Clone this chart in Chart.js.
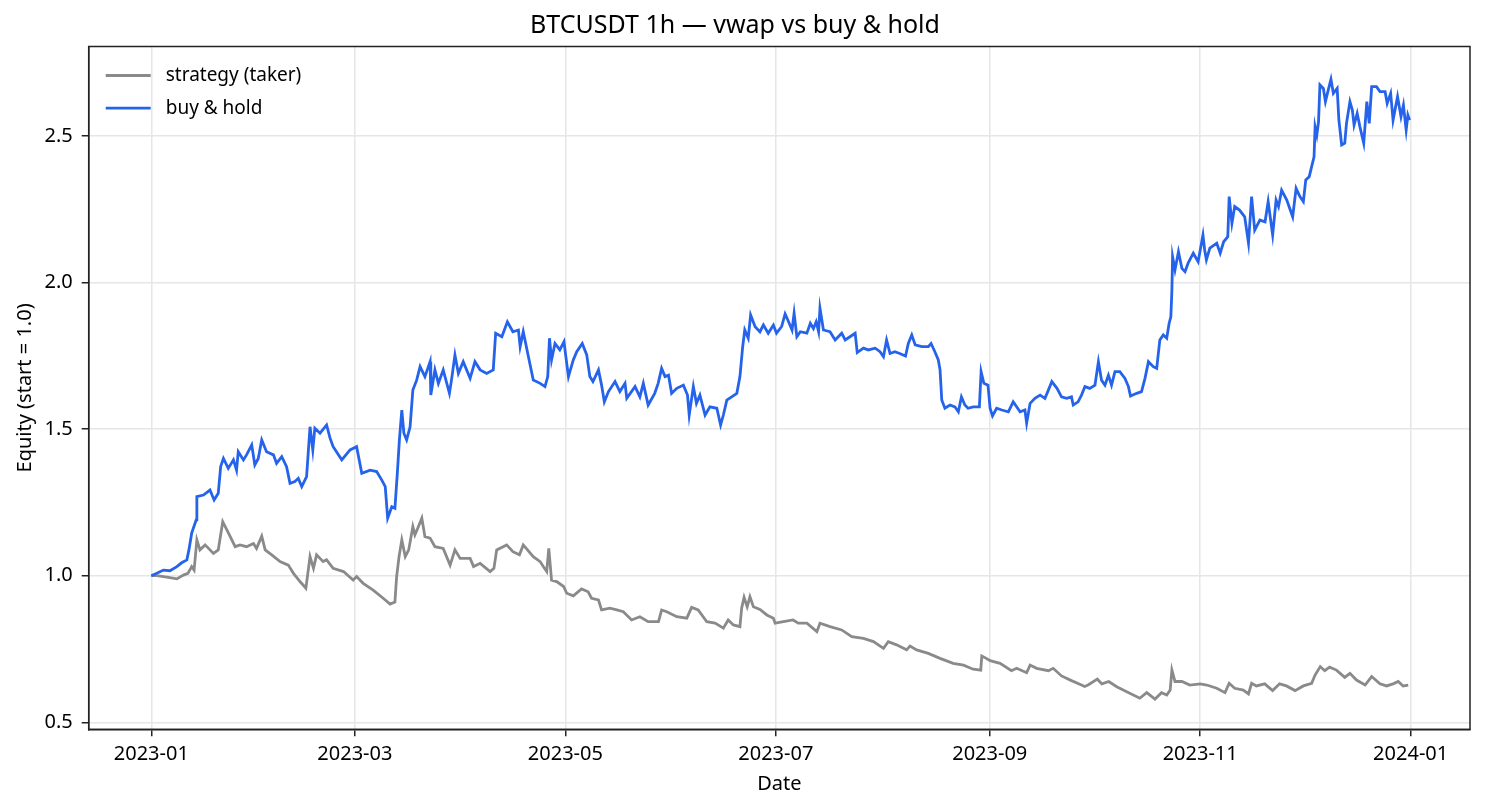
<!DOCTYPE html>
<html>
<head>
<meta charset="utf-8">
<title>BTCUSDT 1h — vwap vs buy & hold</title>
<script src="https://cdn.jsdelivr.net/npm/chart.js@4.4.1/dist/chart.umd.min.js"></script>
<style>
  html, body { margin: 0; padding: 0; background: #fff; }
  #wrap { width: 1485px; height: 810px; }
</style>
</head>
<body>
<div id="wrap"><canvas id="chartEquity" width="1485" height="810"></canvas></div>
<script>
// days since 2023-01-01 and equity
const holdDays = [0,1.6,3.5,5.4,7.4,8.8,10.3,10.9,11.7,13.0,13.2,15.1,17.0,18.2,19.4,20.1,20.9,22.3,23.8,24.7,25.2,26.7,27.6,29.1,30.0,31.0,32.0,33.4,35.4,36.3,37.8,39.2,40.2,41.6,42.6,43.6,45.0,46.0,46.8,47.4,48.9,50.8,51.8,
  52.7,55.2,57.6,59.5,61.0,63.4,65.3,66.8,67.8,68.5,69.7,70.6,71.3,71.9,72.6,73.2,74.0,75.0,75.8,76.9,77.9,79.3,80.8,81.0,82.2,83.2,84.6,86.4,87.0,88.0,89.0,90.4,92.4,93.8,95.3,97.2,99.1,99.8,101.6,103.2,104.8,106.4,106.9,107.8,109.3,110.7,112.7,114.1,114.9,115.4,116.0,117.0,118.4,
  119.6,120.4,120.9,122.3,123.3,124.9,126.2,127.1,128.0,129.6,130.5,131.3,132.5,134.4,135.8,137.3,137.8,140.2,141.6,142.6,144.0,145.9,146.9,147.9,148.9,149.9,150.8,152.3,154.2,155.4,155.9,157.1,158.0,159.0,160.5,161.9,163.9,165.0,165.8,166.8,168.2,169.7,170.6,171.4,172.0,173.0,173.7,175.0,176.4,177.4,178.8,180.3,181.2,182.7,
  183.7,184.7,185.7,186.3,187.1,188.1,190.0,191.0,191.9,192.7,193.4,193.8,194.8,196.7,198.2,200.1,201.1,202.5,204.0,204.6,206.4,207.8,209.8,211.2,212.2,213.1,214.1,215.5,216.9,218.6,219.4,220.4,221.4,223.3,225.2,226.0,227.1,228.1,228.6,229.1,230.0,231.5,232.9,233.9,234.8,235.8,236.7,238.2,240.0,240.5,241.3,242.5,243.1,243.8,245.0,246.5,248.4,249.8,251.8,253.2,253.7,254.7,256.1,257.6,259.0,260.0,261.0,262.5,263.8,265.3,266.7,267.2,268.6,269.6,270.6,272.0,273.5,274.5,275.4,276.4,277.4,278.3,279.3,280.7,282.2,283.2,283.8,285.6,287.0,288.0,289.0,290.4,291.4,292.3,293.3,294.3,295.0,295.5,295.8,
  296.0,296.7,297.7,298.7,299.6,300.5,302.0,303.4,304.8,305.3,305.8,306.8,308.8,309.8,310.8,312.0,312.4,313.2,314.0,315.4,316.9,318.0,318.9,319.8,321.3,322.8,323.7,325.0,326.0,326.7,327.6,329.1,330.8,331.8,332.9,333.9,334.6,335.6,336.3,337.0,337.3,337.8,338.3,338.7,339.7,340.3,341.0,341.9,342.6,343.7,344.2,345.0,345.9,346.4,347.4,348.1,348.6,349.5,350.3,351.4,352.3,353.0,353.7,355.1,356.1,357.6,358.2,359.2,359.9,361.2,362.2,362.9,363.7,364.2,364.7]
const holdEquity = [1.0,1.008,1.019,1.017,1.031,1.044,1.054,1.088,1.145,1.19,1.27,1.275,1.292,1.258,1.281,1.372,1.40,1.366,1.395,1.36,1.423,1.395,1.412,1.446,1.378,1.40,1.463,1.423,1.412,1.383,1.406,1.372,1.315,1.321,1.332,1.304,1.338,1.508,1.429,1.503,1.486,1.514,1.469,
  1.44,1.395,1.429,1.44,1.349,1.36,1.355,1.326,1.304,1.196,1.235,1.23,1.349,1.463,1.565,1.486,1.463,1.508,1.633,1.667,1.713,1.679,1.73,1.616,1.702,1.656,1.702,1.622,1.667,1.753,1.69,1.73,1.673,1.73,1.702,1.69,1.702,1.827,1.815,1.866,1.832,1.838,1.781,1.832,1.747,1.667,1.656,1.645,1.679,1.81,1.736,1.792,1.77,
  1.798,1.724,1.679,1.736,1.764,1.792,1.753,1.679,1.662,1.702,1.65,1.593,1.628,1.662,1.628,1.656,1.605,1.645,1.61,1.656,1.582,1.622,1.656,1.707,1.679,1.684,1.622,1.639,1.65,1.616,1.548,1.645,1.588,1.616,1.548,1.576,1.571,1.514,1.548,1.599,1.61,1.622,1.679,1.781,1.838,1.81,1.889,1.849,1.832,1.855,1.827,1.855,1.827,1.85,
  1.893,1.866,1.838,1.895,1.815,1.832,1.827,1.861,1.843,1.866,1.832,1.912,1.838,1.832,1.804,1.827,1.804,1.815,1.827,1.761,1.776,1.77,1.776,1.764,1.747,1.804,1.758,1.764,1.758,1.749,1.792,1.821,1.787,1.781,1.781,1.792,1.764,1.736,1.702,1.599,1.571,1.582,1.576,1.559,1.61,1.582,1.571,1.576,1.576,1.696,1.656,1.65,1.571,1.545,1.571,1.565,1.559,1.593,1.559,1.565,1.52,1.588,1.605,1.616,1.605,1.633,1.662,1.639,1.61,1.605,1.61,1.582,1.593,1.616,1.645,1.639,1.65,1.73,1.667,1.65,1.684,1.65,1.696,1.696,1.673,1.645,1.613,1.622,1.628,1.673,1.73,1.713,1.707,1.804,1.821,1.81,1.861,1.883,1.974,
  2.088,2.043,2.105,2.048,2.037,2.066,2.10,2.071,2.162,2.111,2.077,2.117,2.134,2.10,2.139,2.156,2.293,2.202,2.259,2.247,2.224,2.134,2.293,2.179,2.213,2.207,2.276,2.162,2.281,2.259,2.315,2.281,2.224,2.321,2.293,2.276,2.35,2.361,2.395,2.429,2.531,2.503,2.548,2.674,2.662,2.617,2.651,2.693,2.645,2.662,2.554,2.469,2.475,2.543,2.617,2.588,2.537,2.577,2.531,2.475,2.617,2.543,2.668,2.668,2.651,2.651,2.611,2.645,2.554,2.634,2.566,2.605,2.52,2.571,2.554]

const stratDays = [0,1.6,4.5,7.4,9.3,10.6,11.7,12.4,13.2,14.1,15.6,18.0,19.4,20.7,21.9,24.3,25.7,27.6,29.6,30.5,32.0,33.0,34.9,37.3,39.7,41.2,43.1,44.8,46.0,47.0,47.9,49.8,50.8,52.7,55.7,58.5,59.5,61.4,64.3,67.2,69.2,70.6,71.1,71.8,72.6,73.6,74.6,75.8,76.4,77.4,78.4,79.3,80.8,82.2,84.6,86.6,88.0,89.5,92.4,93.4,95.3,98.2,99.3,100.1,103.0,104.8,106.7,107.8,110.7,112.7,
  113.6,114.6,115.2,116.0,117.5,119.5,120.4,122.3,124.7,126.6,127.6,129.6,130.5,132.9,134.9,136.8,139.2,141.6,144.0,147.0,147.9,149.4,152.3,155.2,156.6,158.5,161.0,163.4,165.8,167.2,168.7,170.6,171.1,171.8,172.7,173.5,174.5,176.4,178.4,180.3,180.8,183.2,186.0,187.5,190.0,192.9,193.8,196.7,200.1,203.0,206.4,209.3,212.2,213.6,216.0,218.9,219.9,221.8,225.2,228.6,232.4,235.4,238.2,240.4,240.7,242.0,
  243.1,246.0,249.3,250.8,253.7,254.7,256.6,260.0,261.4,263.8,266.7,269.6,270.5,271.5,274.2,275.5,277.5,279.8,282.7,286.5,288.5,290.9,292.8,294.3,295.3,295.8,296.7,298.7,301.0,304.0,305.9,308.8,311.2,312.4,314.0,316.5,318.0,318.9,320.3,322.7,325.0,327.0,329.0,331.5,333.9,336.3,337.3,338.8,340.1,341.5,343.5,345.9,347.4,349.3,351.8,353.7,356.1,358.0,359.9,361.4,362.8,364.3]
const stratEquity = [1.0,1.0,0.995,0.989,1.002,1.008,1.031,1.019,1.122,1.088,1.105,1.076,1.088,1.184,1.156,1.099,1.105,1.099,1.11,1.093,1.135,1.088,1.071,1.048,1.036,1.008,0.98,0.957,1.065,1.025,1.071,1.048,1.054,1.025,1.014,0.985,0.997,0.974,0.951,0.923,0.903,0.91,0.997,1.065,1.122,1.065,1.088,1.167,1.139,1.167,1.196,1.133,1.128,1.099,1.093,1.036,1.088,1.059,1.059,1.031,1.042,1.014,1.025,1.088,1.105,1.082,1.071,1.105,1.065,1.048,
  1.031,1.014,1.093,0.985,0.98,0.963,0.94,0.931,0.955,0.945,0.923,0.917,0.883,0.889,0.883,0.877,0.849,0.86,0.843,0.843,0.883,0.877,0.86,0.855,0.892,0.883,0.843,0.838,0.821,0.849,0.832,0.826,0.889,0.926,0.894,0.928,0.894,0.885,0.866,0.855,0.838,0.843,0.849,0.838,0.838,0.809,0.838,0.826,0.815,0.792,0.786,0.775,0.752,0.775,0.764,0.747,0.76,0.747,0.735,0.718,0.701,0.695,0.681,0.678,0.726,0.718,
  0.71,0.701,0.676,0.684,0.669,0.695,0.684,0.676,0.684,0.658,0.642,0.627,0.622,0.627,0.647,0.631,0.639,0.621,0.604,0.582,0.601,0.579,0.601,0.593,0.61,0.678,0.639,0.639,0.627,0.631,0.627,0.616,0.601,0.633,0.616,0.61,0.597,0.633,0.624,0.631,0.608,0.631,0.624,0.608,0.624,0.633,0.661,0.69,0.676,0.688,0.678,0.653,0.667,0.644,0.627,0.656,0.631,0.624,0.631,0.639,0.624,0.627]

const monthDays = [0, 59, 120, 181, 243, 304, 365]
const monthLabels = ['2023-01', '2023-03', '2023-05', '2023-07', '2023-09', '2023-11', '2024-01']
const equityTicks = [0.5, 1.0, 1.5, 2.0, 2.5]

const FONT = 'Noto Sans'

function toPoints(days, values) {
    return days.map((d, i) => ({ x: d, y: values[i] }))
}

// matplotlib-like box round the axes plus the legend in the upper left corner
const frameAndLegend = {
    id: 'frameAndLegend',
    afterDraw(chart) {
        const ctx = chart.ctx
        const a = chart.chartArea
        ctx.save()
        ctx.strokeStyle = '#222'
        ctx.lineWidth = 1.5
        ctx.strokeRect(a.left, a.top, a.right - a.left, a.bottom - a.top)

        ctx.font = '19px "' + FONT + '"'
        ctx.textBaseline = 'middle'
        ctx.fillStyle = '#000'
        chart.data.datasets.forEach((ds, i) => {
            const y = a.top + 29 + i * 32.6
            ctx.strokeStyle = ds.borderColor
            ctx.lineWidth = 2.8
            ctx.beginPath()
            ctx.moveTo(a.left + 17, y)
            ctx.lineTo(a.left + 62, y)
            ctx.stroke()
            ctx.fillText(ds.label, a.left + 77, y)
        })
        ctx.restore()
    }
}

function equityChart(ctx) {
    Chart.defaults.color = '#000'
    Chart.defaults.font.family = FONT
    const gridStyle = {
        color: '#e6e6e6',
        lineWidth: 1.5,
        tickLength: 7,
        tickColor: '#222',
        tickWidth: 1.5
    }
    const chart = new Chart(ctx, {
        type: 'line',
        data: {
            datasets: [{
                label: 'strategy (taker)',
                data: toPoints(stratDays, stratEquity),
                borderColor: '#8a8a8a',
                borderWidth: 2.8,
                pointRadius: 0,
                tension: 0,
                order: 1
            }, {
                label: 'buy & hold',
                data: toPoints(holdDays, holdEquity),
                borderColor: '#2563eb',
                borderWidth: 2.8,
                pointRadius: 0,
                tension: 0,
                order: 0
            }]
        },
        options: {
            responsive: false,
            animation: false,
            devicePixelRatio: 1,
            layout: { padding: { left: 0, right: 15, top: 0, bottom: 0 } },
            plugins: {
                legend: { display: false },
                tooltip: { enabled: false },
                title: {
                    display: true,
                    text: 'BTCUSDT 1h — vwap vs buy & hold',
                    color: '#000',
                    font: { size: 25, weight: 'normal' },
                    padding: { top: 11, bottom: 5.5 }
                }
            },
            scales: {
                x: {
                    type: 'linear',
                    min: -18.15,
                    max: 382.2,
                    afterBuildTicks: scale => { scale.ticks = monthDays.map(v => ({ value: v })) },
                    afterFit: scale => { scale.height = 80.7 },
                    ticks: {
                        font: { size: 20 },
                        padding: 6,
                        maxRotation: 0,
                        callback: v => monthLabels[monthDays.indexOf(v)]
                    },
                    grid: gridStyle,
                    border: { display: true, color: '#222', width: 1.5 },
                    title: { display: true, text: 'Date', font: { size: 20 }, padding: { top: 0, bottom: 14 } }
                },
                y: {
                    min: 0.476,
                    max: 2.805,
                    afterBuildTicks: scale => { scale.ticks = equityTicks.map(v => ({ value: v })) },
                    afterFit: scale => { scale.width = 88.7 },
                    ticks: {
                        font: { size: 20 },
                        padding: 9,
                        callback: v => v.toFixed(1)
                    },
                    grid: gridStyle,
                    border: { display: true, color: '#222', width: 1.5 },
                    title: { display: true, text: 'Equity (start = 1.0)', font: { size: 20 }, padding: { top: 13, bottom: 0 } }
                }
            }
        },
        plugins: [frameAndLegend]
    })
    return chart
}

equityChart(document.querySelector('#chartEquity').getContext('2d'))
</script>
</body>
</html>
